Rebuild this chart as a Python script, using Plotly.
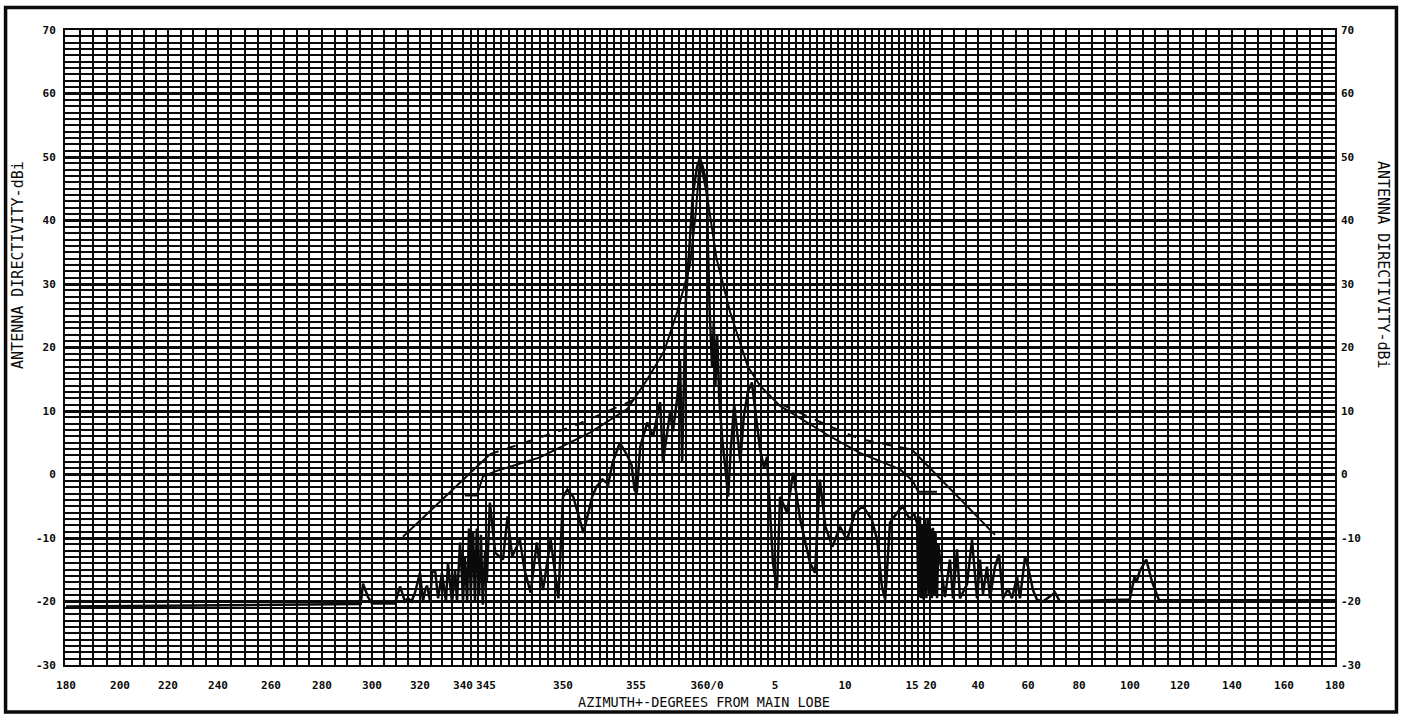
import numpy as np
import plotly.graph_objects as go

# ---- axis scale: signed degrees from main lobe -> axis position (piecewise linear chart paper)
SCALE_DEG = [-180, -160, -140, -120, -100, -80, -60, -40, -20, -15, -10, -5, 0,
             5, 10, 15, 20, 40, 60, 80, 100, 120, 140, 160, 180]
SCALE_POS = [66, 120, 168, 218, 271, 322, 372, 420, 463, 486, 563, 636, 707,
             775, 845, 912, 930, 978, 1028, 1079, 1130, 1180, 1232, 1284, 1335]
TICK_TEXT = ["180", "200", "220", "240", "260", "280", "300", "320", "340", "345",
             "350", "355", "360/0", "5", "10", "15", "20", "40", "60", "80",
             "100", "120", "140", "160", "180"]
Y_TICKS = [70, 60, 50, 40, 30, 20, 10, 0, -10, -20, -30]

# ---- measured antenna pattern (deg from main lobe, dBi)
pattern_deg = [
    -180, -150, -100, -64.5, -63.6, -61.6, -60, -50.4, -48.3, -46.3, -45, -43.5, -42,
    -40, -38.6, -37.5, -36.7, -35.3, -34.4, -33, -31.6, -29.8, -27.9, -27, -25.1,
    -23.7, -22.8, -21.4, -20.5, -20, -19.6, -19.1, -18.7, -18.3, -17.8, -17.4, -17,
    -16.5, -16.1, -15.7, -15.2, -14.95, -14.75, -14.4, -13.9, -13.6, -13.3, -12.8,
    -12.5, -12.1, -11.7, -11.3, -10.8, -10.5, -10.3, -10, -9.7, -9.3, -8.6, -8,
    -7.7, -7.3, -6.9, -6.6, -6.1, -5.6, -5.3, -5.1, -4.95, -4.7, -4.2, -3.8, -3.3,
    -3.1, -2.6, -2.4, -2.1, -1.9, -1.75, -1.5, -1.2, -1.0, -0.7, -0.5, -0.3, 0.0,
    0.07, 0.2, 0.37, 0.5, 0.62, 0.75, 0.9, 1.1, 1.35, 1.55, 1.75, 2.0, 2.25, 2.45,
    2.7, 3.0, 3.3, 3.6, 3.9, 4.2, 4.41, 4.85, 5.14, 5.36, 5.86, 6.3, 6.8, 7.5, 7.86,
    8.2, 8.6, 9.1, 9.64, 10.15, 10.75, 11.34, 12.0, 12.4, 12.76, 13.0, 13.36, 13.9,
    14.3, 14.85, 15.5, 16.4, 16.8, 17.2, 17.5, 17.8, 18.2, 18.6, 19.0, 19.4, 19.8,
    20.3, 20.8, 21.25, 21.8, 22.3, 22.9, 23.5, 24.2, 26.25, 28.3, 29.6, 31.25, 32.5,
    35.4, 37.5, 39.6, 40.8, 42, 43.6, 44.8, 46.8, 48.4, 50, 52, 53.6, 55.6, 56.8,
    58.8, 60, 61.95, 63.5, 65.9, 70.6, 72.5, 99.9, 101.8, 102.6, 103.8, 106.5,
    108.9, 111.6, 180]
pattern_db = [
    -20.8, -20.7, -20.5, -20.4, -17.2, -19.3, -20.3, -20.3, -17.6, -20, -19.5, -20, -18.5,
    -15.5, -20, -18, -17.5, -20, -15.5, -15, -19.5, -15.5, -20, -13.9, -20.2,
    -15, -20, -10.7, -16, -20, -13, -20, -8.5, -19, -9, -20, -8.5,
    -19, -9.5, -20.5, -12, -17, -4.4, -12.3, -13.4, -6.6, -12.9, -10.3,
    -15, -18.6, -10.7, -18.2, -10.3, -15.5, -19.5, -3.5, -2.4, -3.5, -9.2, -3.5,
    -1.9, -0.8, -1.5, 1.9, 5, 3, 1.5, -2.4, -3, 4.4, 8.2, 6, 11.4,
    1.9, 9.8, 6.8, 12, 18, 2, 27, 38, 44, 48.5, 49.8, 48.5, 45.5,
    36, 25.6, 17, 24, 14, 22, 12, 6, 1, -3.5, 4, 11, 6, 2,
    9, 13, 14.5, 9, 4, 1, 2.8, -13.9, -18.2, -3.5, -6, 0.3, -7.1, -13.9, -15.5,
    -0.8, -8.2, -11.4, -8.2, -10.3, -6, -5, -7.1, -10.3, -17.7, -19.7, -7.6, -6,
    -5, -7.1, -6, -7.6, -19.3, -6.6, -19.5, -8, -19.7, -7, -19.5, -6.8, -19,
    -8.5, -19.5, -8.4, -19, -9, -19.5, -11, -13.4, -19.3, -13.4, -19.5, -11.8, -19.5,
    -17.3, -10.3, -19.5, -13.4, -18.8, -14.5, -19.5, -14.5, -12.6, -19.5, -18, -19.5, -16.1, -19.5,
    -13, -14.5, -18.2, -19.7, -20, -18.6, -20, -19.7, -16.1, -17, -15.3, -13.4,
    -17, -19.8, -19.8]

# ---- reference envelope (lower smooth curve through main lobe)
env_b_deg = [-19.6, -17, -15.65, -14.4, -11.5, -8.15, -5.6, -4.7, -4.2, -3.0, -2.1,
             -1.2, -0.8, -0.5, 0.0, 0.7, 1.7, 3.0, 3.9, 5.36, 6.3, 8.7, 11.1, 14.1,
             15.2, 16.7, 22.9]
env_b_db = [-3.3, -3.3, -0.3, 0.5, 2.7, 6.6, 10.3, 13.4, 15, 19.5, 25.6,
            32.9, 41, 49.5, 44, 34, 25.6, 17, 14, 10.8, 9.5, 6.3, 3.4, 0.8,
            -1, -2.7, -2.7]

# ---- upper envelope: solid outer parts, dashed inner parts
env_a_left_deg = [-47.1, -20, -14.74]
env_a_left_db = [-9.8, -0.85, 3.2]
env_a_left_dash_deg = [-14.74, -9.3, -5.2]
env_a_left_dash_db = [3.2, 7.6, 11.7]
env_a_right_dash_deg = [5.5, 8.7, 11.1, 14.1, 15.0]
env_a_right_dash_db = [11.0, 7.8, 5.6, 4.2, 3.9]
env_a_right_deg = [15.0, 20, 46.8]
env_a_right_db = [3.9, 1.0, -9.5]


def scale(d):
    return np.interp(np.asarray(d, dtype=float), SCALE_DEG, SCALE_POS)


# minor vertical grid in degrees
minor_deg = ([d for d in range(-175, -20, 5) if d % 20 != 0] + [-18.33, -16.67]
             + [float(d) for d in np.arange(-14.5, 15.0, 0.5) if abs(d % 5) > 1e-9]
             + [16.67, 18.33] + [d for d in range(25, 180, 5) if d % 20 != 0])

INK = "#0a0a0a"
FONT = "DejaVu Sans Mono"

fig = go.Figure()
fig.add_trace(go.Scatter(x=scale(pattern_deg), y=pattern_db, mode="lines",
                         line=dict(color=INK, width=2.5), hoverinfo="skip"))
fig.add_trace(go.Scatter(x=scale(env_b_deg), y=env_b_db, mode="lines",
                         line=dict(color=INK, width=2), hoverinfo="skip"))
for xd, yd, dash in [(env_a_left_deg, env_a_left_db, "solid"),
                     (env_a_left_dash_deg, env_a_left_dash_db, "dash"),
                     (env_a_right_dash_deg, env_a_right_dash_db, "dash"),
                     (env_a_right_deg, env_a_right_db, "solid")]:
    fig.add_trace(go.Scatter(x=scale(xd), y=yd, mode="lines",
                             line=dict(color=INK, width=2, dash=dash), hoverinfo="skip"))
# invisible trace so the right axis is drawn
fig.add_trace(go.Scatter(x=[scale(0)], y=[0], yaxis="y2", mode="markers",
                         marker=dict(opacity=0), hoverinfo="skip", showlegend=False))

tickfont = dict(family=FONT, size=11, color=INK, weight="bold")
fig.update_layout(
    width=1401, height=717, showlegend=False,
    paper_bgcolor="white", plot_bgcolor="white",
    margin=dict(l=65, r=66, t=30, b=52),
    xaxis=dict(range=[65, 1335], tickmode="array", tickvals=scale(SCALE_DEG),
               ticktext=TICK_TEXT, tickfont=tickfont, ticks="", ticklabelstandoff=9,
               showgrid=True, gridcolor=INK, gridwidth=2.3, zeroline=False,
               showline=True, linecolor=INK, linewidth=2, mirror=True,
               minor=dict(tickmode="array", tickvals=scale(minor_deg), showgrid=True,
                          gridcolor=INK, gridwidth=1.6, ticks="")),
    yaxis=dict(range=[-30, 70], tickmode="array", tickvals=Y_TICKS,
               ticktext=[str(v) for v in Y_TICKS], tickfont=tickfont, ticks="",
               ticklabelstandoff=5,
               showgrid=True, gridcolor=INK, gridwidth=2.5, zeroline=False,
               showline=True, linecolor=INK, linewidth=2, mirror=True,
               minor=dict(dtick=1, showgrid=True, gridcolor=INK, gridwidth=1.6, ticks="")),
    yaxis2=dict(range=[-30, 70], overlaying="y", side="right", tickmode="array",
                tickvals=Y_TICKS, ticktext=[str(v) for v in Y_TICKS], tickfont=tickfont,
                ticks="", ticklabelstandoff=5, showgrid=False, zeroline=False,
                showline=False),
)

fig.add_annotation(text="AZIMUTH+-DEGREES FROM MAIN LOBE", xref="paper", yref="paper",
                   x=0.503, y=-0.058, showarrow=False, xanchor="center", yanchor="middle",
                   font=dict(family=FONT, size=13.5, color=INK))
fig.add_annotation(text="ANTENNA DIRECTIVITY-dBi", xref="paper", yref="paper",
                   x=-0.037, y=0.63, showarrow=False, textangle=-90,
                   xanchor="center", yanchor="middle",
                   font=dict(family=FONT, size=15, color=INK))
fig.add_annotation(text="ANTENNA DIRECTIVITY-dBi", xref="paper", yref="paper",
                   x=1.0378, y=0.63, showarrow=False, textangle=90,
                   xanchor="center", yanchor="middle",
                   font=dict(family=FONT, size=15, color=INK))
# outer frame
fig.add_shape(type="rect", xref="paper", yref="paper", x0=-0.0468, x1=1.0484,
              y0=-0.074, y1=1.0354, line=dict(color=INK, width=3.5))

fig.write_html("out.html", config={"displayModeBar": False},
               post_script="document.body.style.margin='0';document.body.style.overflow='hidden';")
